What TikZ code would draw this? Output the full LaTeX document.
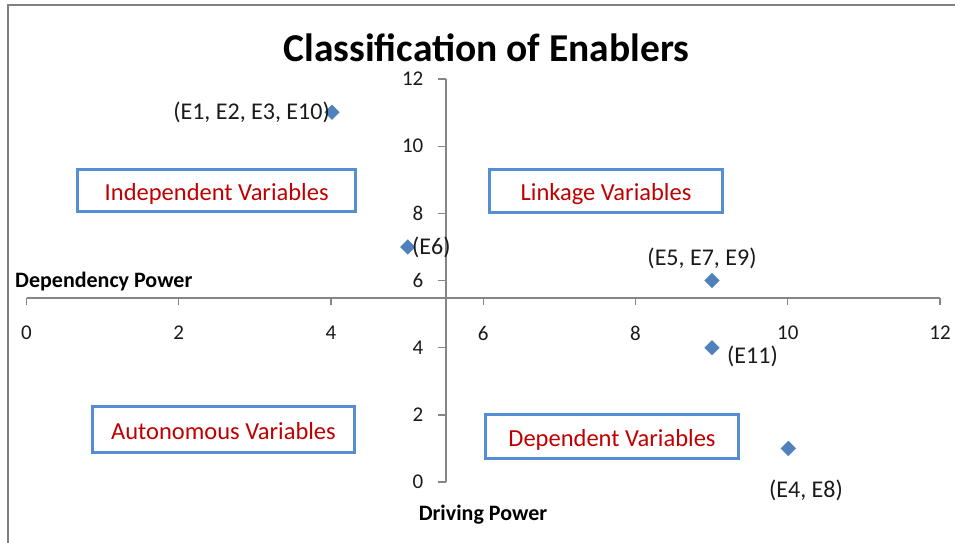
\documentclass[tikz,border=0pt]{standalone}
\usepackage{fontspec}
\setmainfont{Carlito}
\usetikzlibrary{shapes.geometric}
\definecolor{boxblue}{HTML}{558ED5}
\definecolor{varred}{HTML}{C00000}
\definecolor{ptblue}{HTML}{4F81BD}
\definecolor{axisgray}{HTML}{868686}
\definecolor{framegray}{HTML}{808080}
\definecolor{txt}{HTML}{1A1A1A}
\tikzset{
  fs/.style={font=\fontsize{#1}{#1}\selectfont},
  varbox/.style={draw=boxblue, line width=3.3pt, text=varred, fs=24.5, inner sep=0pt, anchor=center, text height=19.8pt, text depth=0pt},
  pt/.style={diamond, fill=ptblue, inner sep=0pt, minimum size=15.5pt},
  ptlabel/.style={text=txt, fs=24, inner sep=0pt},
  ticklabel/.style={text=txt, fs=21, inner sep=0pt},
  axistitle/.style={text=black, font=\bfseries\fontsize{22}{22}\selectfont, inner sep=0pt},
  axisline/.style={draw=axisgray, line width=1.3pt},
}
\begin{document}
\begin{tikzpicture}[x=1pt,y=-1pt]
\useasboundingbox (0,0) rectangle (955,542);
% frame
\coordinate (fTR) at (960,5);
\coordinate (fTL) at (8,5);
\coordinate (fBL) at (8,545);
\draw[framegray, line width=2pt] (fTR) -- (fTL) -- (fBL);
% title
\node[font=\bfseries\fontsize{39.5}{39.5}\selectfont, inner sep=0pt] (title) at (486.5,48) {Classification of Enablers};
% axes
\coordinate (xl) at (26.5,298);
\coordinate (xr) at (940,298);
\coordinate (yt) at (446,79);
\coordinate (yb) at (446,482);
\draw[axisline] (xl) -- (xr);
\draw[axisline] (yt) -- (yb);
% x ticks
\foreach \v in {0,2,...,12}{
  \coordinate (xt\v) at ({26.5+\v*76.13},298);
  \draw[axisline] (xt\v) -- ++(0,7);
  \node[ticklabel] (xtl\v) at ({26.5+\v*76.13},333) {\v};
}
% y ticks
\foreach \v in {0,2,...,12}{
  \coordinate (yt\v) at (446,{482-\v*33.58});
  \draw[axisline] (yt\v) -- ++(-8,0);
  \node[ticklabel, anchor=east] (ytl\v) at (423.5,{482-\v*33.58}) {\v};
}
% axis titles
\node[axistitle, anchor=west] (dep) at (15,282) {Dependency Power};
\node[axistitle] (drv) at (483,515) {Driving Power};
% boxes
\node[varbox, minimum width=278pt, minimum height=42pt] (indep) at (216.7,190.8) {Independent Variables};
\node[varbox, minimum width=233pt, minimum height=43pt] (link) at (606,191) {Linkage Variables};
\node[varbox, minimum width=262pt, minimum height=46pt] (auto) at (223.5,429.5) {Autonomous Variables};
\node[varbox, minimum width=253pt, minimum height=44pt] (depv) at (612,436.5) {Dependent Variables};
% points
\node[pt] (p1) at (332,112.3) {};
\node[pt] (p2) at (407.8,247) {};
\node[pt] (p3) at (712,280.5) {};
\node[pt] (p4) at (712,347.7) {};
\node[pt] (p5) at (788.3,448.4) {};
% point labels
\node[ptlabel, anchor=east] (l1) at (330,112) {(E1, E2, E3, E10)};
\node[ptlabel, anchor=west] (l2) at (412,247) {(E6)};
\node[ptlabel] (l3) at (702,258) {(E5, E7, E9)};
\node[ptlabel, anchor=west] (l4) at (727,356) {(E11)};
\node[ptlabel] (l5) at (806,490) {(E4, E8)};
\end{tikzpicture}
\end{document}
